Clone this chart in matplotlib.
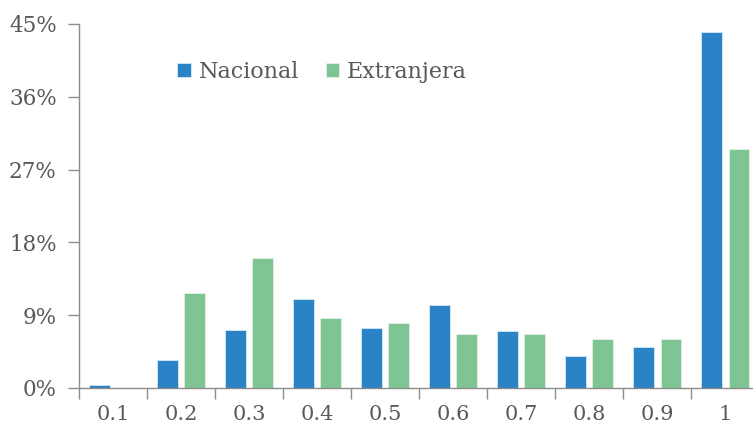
import numpy as np
import matplotlib.pyplot as plt
from matplotlib.ticker import FixedLocator, FuncFormatter

# data
categories = ["0.1", "0.2", "0.3", "0.4", "0.5", "0.6", "0.7", "0.8", "0.9", "1"]
nacional = [0.4, 3.4, 7.2, 11.0, 7.4, 10.2, 7.1, 4.0, 5.1, 44.0]
extranjera = [0.0, 11.7, 16.1, 8.6, 8.0, 6.7, 6.7, 6.1, 6.1, 29.5]
y_ticks = [0, 9, 18, 27, 36, 45]

blue = "#2a82c7"
green = "#7fc493"
grey_txt = "#595959"
grey_axis = "#8c8c8c"

plt.rcParams['font.family'] = ['DejaVu Serif']

fig = plt.figure(figsize=(7.53, 4.30), dpi=100)
ax = fig.add_axes([79 / 753, 42 / 430, 674 / 753, 364 / 430])

x = np.arange(len(categories))
w = 0.3
ax.bar(x - 0.2, nacional, w, color=blue, edgecolor="#d9e9f5", linewidth=0.6, label="Nacional")
ax.bar(x + 0.2, extranjera, w, color=green, edgecolor="#e3f2e7", linewidth=0.6, label="Extranjera")

ax.set_xlim(-0.5, 9.41)
ax.set_ylim(0, 45)

ax.set_yticks(y_ticks)
ax.yaxis.set_major_formatter(FuncFormatter(lambda v, p: f"{v:.0f}%"))
ax.set_xticks(x)
ax.set_xticklabels(categories)
ax.xaxis.set_minor_locator(FixedLocator(np.arange(-0.5, 10, 1.0)))

ax.tick_params(axis="x", which="major", length=0, pad=12, labelsize=15, colors=grey_txt)
ax.tick_params(axis="x", which="minor", length=8, width=1, color=grey_axis)
ax.tick_params(axis="y", length=8, width=1, color=grey_axis, labelsize=15.5, labelcolor=grey_txt, pad=8)

for s in ["top", "right"]:
    ax.spines[s].set_visible(False)
for s in ["left", "bottom"]:
    ax.spines[s].set_color(grey_axis)
    ax.spines[s].set_linewidth(1)

leg = ax.legend(loc="center left", bbox_to_anchor=(0.146, 0.868), ncol=2, frameon=False,
                handlelength=0.6, handleheight=0.6, handletextpad=0.36, columnspacing=1.2,
                fontsize=16, borderaxespad=0, borderpad=0)
for t in leg.get_texts():
    t.set_color(grey_txt)

fig.savefig("out.png", dpi=100)
